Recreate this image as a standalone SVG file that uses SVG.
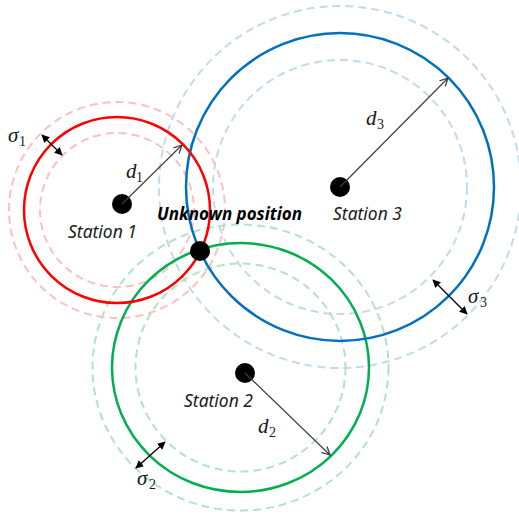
<svg xmlns="http://www.w3.org/2000/svg" width="519" height="515" viewBox="0 0 519 515">
<defs>
<marker id="open" viewBox="0 0 10 10" refX="9" refY="5" markerWidth="10" markerHeight="10" markerUnits="userSpaceOnUse" orient="auto">
<path d="M1,1 L9,5 L1,9" fill="none" stroke="#404040" stroke-width="1.3"/>
</marker>
<marker id="tri" viewBox="0 0 10 10" refX="9" refY="5" markerWidth="8" markerHeight="8" markerUnits="userSpaceOnUse" orient="auto-start-reverse">
<path d="M0,0 L10,5 L0,10 Z" fill="#000"/>
</marker>
</defs>
<style>
.bg{fill:#fff}
.dash{fill:none;stroke-width:2;stroke-dasharray:8 5}
.solid{fill:none;stroke-width:2.5}
.dot{fill:#000}
.lbl{font-family:"Noto Sans","Open Sans",sans-serif;font-style:italic;font-size:18px;fill:#1a1a1a}
.bold{font-weight:bold;fill:#000}
.math{font-family:"Liberation Serif","DejaVu Serif",serif;font-style:italic;font-size:21px;fill:#1a1a1a}
.sub{font-family:"Liberation Serif","DejaVu Serif",serif;font-size:14px;fill:#1a1a1a}
.darr{stroke:#404040;stroke-width:1.2;fill:none;marker-end:url(#open)}
.sarr{stroke:#000;stroke-width:1.3;fill:none;marker-start:url(#tri);marker-end:url(#tri)}
</style>
<rect class="bg" x="0" y="0" width="519" height="515"/>
<g id="station3-rings">
<circle class="dash" cx="340" cy="187" r="181" stroke="#C2DAEE"/>
<circle class="dash" cx="340" cy="187" r="127" stroke="#C2DAEE"/>
</g>
<g id="station1-rings">
<circle class="dash" cx="117" cy="210" r="108" stroke="#F8C2C2"/>
<circle class="dash" cx="117" cy="210" r="77" stroke="#F8C2C2"/>
</g>
<g id="station2-rings">
<ellipse class="dash" cx="240.5" cy="367.5" rx="148" ry="143" stroke="#B3E3C4"/>
<ellipse class="dash" cx="240.5" cy="367.5" rx="105" ry="104" stroke="#B3E3C4"/>
</g>
<g id="station2">
<ellipse class="solid" cx="240.5" cy="367.5" rx="128.5" ry="124.5" stroke="#00B050"/>
<circle class="dot" cx="245" cy="373" r="10"/>
<text class="lbl" x="184" y="407" textLength="69" lengthAdjust="spacingAndGlyphs">Station 2</text>
</g>
<g id="station3">
<circle class="solid" cx="340" cy="187" r="154" stroke="#0070C0"/>
<circle class="dot" cx="340" cy="187" r="10"/>
<text class="lbl" x="333" y="220" textLength="69" lengthAdjust="spacingAndGlyphs">Station 3</text>
</g>
<g id="station1">
<circle class="solid" cx="117" cy="210" r="93" stroke="#FF0000"/>
<circle class="dot" cx="122" cy="204" r="10"/>
<text class="lbl" x="68" y="238" textLength="69" lengthAdjust="spacingAndGlyphs">Station 1</text>
</g>
<g id="unknown">
<circle class="dot" cx="200" cy="251" r="10"/>
<text class="lbl bold" x="157" y="220" textLength="145" lengthAdjust="spacingAndGlyphs">Unknown position</text>
</g>
<g id="connectors">
<line class="darr" x1="122" y1="204" x2="182" y2="145"/>
<line class="darr" x1="245" y1="373" x2="330" y2="455"/>
<line class="darr" x1="340" y1="187" x2="448" y2="78"/>
<line class="sarr" x1="42" y1="135" x2="62" y2="155"/>
<line class="sarr" x1="165" y1="442" x2="136" y2="468"/>
<line class="sarr" x1="433" y1="280" x2="467" y2="314"/>
</g>
<g id="labels">
<text class="math" x="8" y="142">σ</text><text class="sub" x="19" y="146">1</text>
<text class="math" x="126" y="178">d</text><text class="sub" x="136" y="182">1</text>
<text class="math" x="258" y="433">d</text><text class="sub" x="269" y="437">2</text>
<text class="math" x="137" y="485">σ</text><text class="sub" x="149" y="489">2</text>
<text class="math" x="366" y="125">d</text><text class="sub" x="377" y="129">3</text>
<text class="math" x="468" y="303">σ</text><text class="sub" x="480" y="307">3</text>
</g>
</svg>
